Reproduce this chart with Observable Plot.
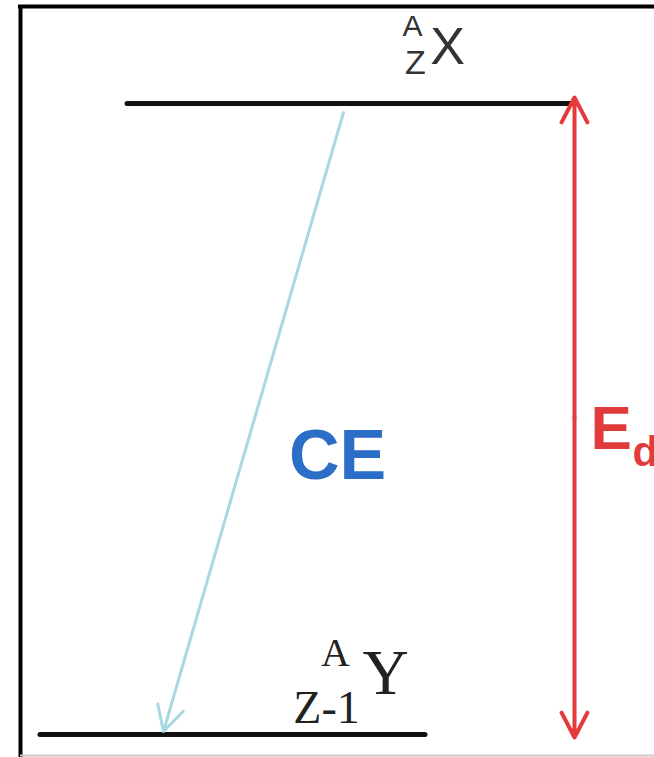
<!DOCTYPE html>
<html><head><meta charset="utf-8">
<script src="https://cdn.jsdelivr.net/npm/d3@7"></script>
<script src="https://cdn.jsdelivr.net/npm/@observablehq/plot@0.6"></script>
<style>body{margin:0;background:#fff;overflow:hidden}</style>
</head><body><div id="chart"></div>
<script>
// Energy levels (diagram units)
const levelNames = ["parent", "daughter"];
const levelX1 = [127, 40];
const levelX2 = [572, 425];
const levelY = [103, 734];

// Capture transition arrow (CE)
const ceStart = {x: 343, y: 112};
const ceEnd = {x: 163, y: 731};

// Decay energy double arrow (E_d)
const edX = 574;
const edTop = 97;
const edBottom = 737;

// Frame edges
const frameLeft = 20, frameTop = 6, frameBottom = 755, frameRight = 654;

// Labels
const parentLabels = [
  {text: "A", x: 412, y: 35, size: 30},
  {text: "Z", x: 415, y: 73, size: 34},
  {text: "X", x: 447, y: 63, size: 52}
];
const daughterLabels = [
  {text: "A", x: 335, y: 665, size: 40},
  {text: "Y", x: 385, y: 693, size: 64},
  {text: "Z-1", x: 326, y: 722, size: 46}
];
const ceLabel = [{text: "CE", x: 337, y: 478}];
const edLabel = [{text: "E", x: 590, y: 448, size: 62}, {text: "d", x: 632, y: 465, size: 42}];

const levels = levelNames.map((n, i) => ({name: n, x1: levelX1[i], x2: levelX2[i], y: levelY[i]}));
const edMid = (edTop + edBottom) / 2;

const chart = Plot.plot({
  width: 654, height: 757,
  margin: 0,
  x: {domain: [0, 654], range: [0, 654], axis: null},
  y: {domain: [0, 757], range: [0, 757], axis: null},
  style: {background: "#fff"},
  marks: [
    // frame
    Plot.ruleX([frameLeft], {y1: frameTop, y2: 757, stroke: "#000", strokeWidth: 4}),
    Plot.ruleY([frameTop], {x1: frameLeft - 2, x2: frameRight, stroke: "#000", strokeWidth: 4}),
    Plot.ruleY([frameBottom], {x1: frameLeft, x2: frameRight, stroke: "#c8c8c8", strokeWidth: 2}),
    // levels
    Plot.ruleY(levels, {y: "y", x1: "x1", x2: "x2", stroke: "#111", strokeWidth: 5, strokeLinecap: "round"}),
    // CE arrow
    Plot.arrow([{x1: ceStart.x, y1: ceStart.y, x2: ceEnd.x, y2: ceEnd.y}], {
      x1: "x1", y1: "y1", x2: "x2", y2: "y2",
      stroke: "#a8d8e0", strokeWidth: 3, headLength: 14, headAngle: 56
    }),
    // Ed double arrow
    Plot.arrow([{x1: edX, y1: edMid, x2: edX, y2: edTop}, {x1: edX, y1: edMid, x2: edX, y2: edBottom}], {
      x1: "x1", y1: "y1", x2: "x2", y2: "y2",
      stroke: "#e5393b", strokeWidth: 4, headLength: 10.5, headAngle: 55
    }),
    // labels
    Plot.text(parentLabels, {
      x: "x", y: "y", text: "text", fontSize: "size", textAnchor: "middle", lineAnchor: "bottom",
      fill: "#333", fontFamily: "Liberation Sans, Arial, sans-serif", ariaLabel: "stretched"
    }),
    Plot.text(daughterLabels, {
      x: "x", y: "y", text: "text", fontSize: "size", textAnchor: "middle", lineAnchor: "bottom",
      fill: "#222", fontFamily: "Liberation Serif, Times New Roman, serif"
    }),
    Plot.text(ceLabel, {
      x: "x", y: "y", text: "text", fontSize: 70, fontWeight: "bold", textAnchor: "middle", lineAnchor: "bottom",
      fill: "#2b6ec7", fontFamily: "Liberation Sans, Arial, sans-serif"
    }),
    Plot.text(edLabel, {
      x: "x", y: "y", text: "text", fontSize: "size", fontWeight: "bold", textAnchor: "start", lineAnchor: "bottom",
      fill: "#e23b3b", fontFamily: "Liberation Sans, Arial, sans-serif"
    })
  ]
});

d3.select(chart).selectAll('g[aria-label="stretched"] text').each(function() {
  const t = this.getAttribute("transform") || "";
  this.setAttribute("transform", t + " scale(0.72,1)");
});

document.getElementById("chart").appendChild(chart);
</script>
</body></html>
